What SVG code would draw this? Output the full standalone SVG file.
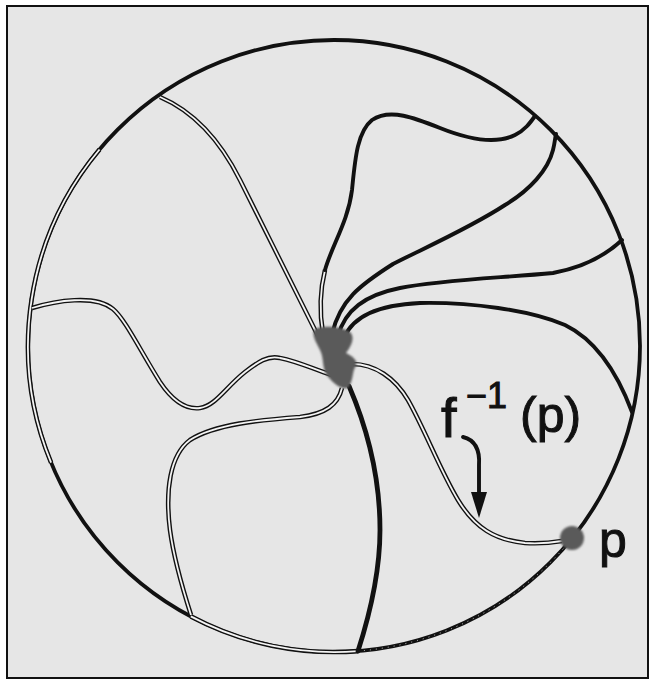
<svg xmlns="http://www.w3.org/2000/svg" width="654" height="684" viewBox="0 0 654 684">
<style>
.bg{fill:#e6e6e6;stroke:#111;stroke-width:2}
.thick{fill:none;stroke:#111;stroke-width:3.9;stroke-linecap:round;stroke-linejoin:round}
.heavy{fill:none;stroke:#111;stroke-width:4.8;stroke-linecap:round}
.ho{fill:none;stroke:#111;stroke-width:4.6;stroke-linecap:butt}
.hi{fill:none;stroke:#f4f4f4;stroke-width:1.8;stroke-linecap:butt}
.dots{fill:none;stroke:#dcdcdc;stroke-width:0.9;stroke-dasharray:1 5}
.lbl{font-family:"Liberation Sans",Arial,sans-serif;fill:#111;stroke:#111;stroke-width:1}
.blob{fill:#5a5a5a;filter:url(#soft)}
</style>
<defs>
<filter id="soft" x="-30%" y="-30%" width="160%" height="160%"><feGaussianBlur stdDeviation="1.3"/></filter>
<path id="arcUL" d="M99.5,149.5 A306,306 0 0 0 51.1,462.6"/>
<path id="arcBot" d="M190.8,616.4 A306,306 0 0 0 358,651.1"/>
<path id="arcBR" d="M358,651.1 A306,306 0 0 0 570.9,539.8"/>
<path id="l1" d="M160,97 C195,112 220,140 240,180 C265,230 295,290 318,336"/>
<path id="l2" d="M32,308 C55,301 95,294 113,309 C125,319 140,350 160,382 C172,400 185,410 200,408 C215,406 225,388 245,372 C258,362 268,355 280,358 C300,362 315,370 332,375"/>
<path id="l3" d="M342,388 C338,405 325,414 300,417 C260,420 215,424 190,440 C170,455 165,490 170,530 C174,560 183,590 191,615"/>
<path id="l5" d="M352,364 C375,364 395,378 408,400 C425,430 440,470 458,500 C475,528 495,540 525,543 C540,544 550,543 562,541"/>
<path id="aStart" d="M323,334 C319,310 320,290 325,270"/>
</defs>

<rect class="bg" x="7" y="6" width="641" height="672"/>

<g id="boundary">
<circle cx="334" cy="346" r="306" fill="none" stroke="#111" stroke-width="3.8"/>
<use href="#arcUL" class="ho"/><use href="#arcUL" class="hi"/>
<use href="#arcBot" class="ho"/><use href="#arcBot" class="hi"/>
<use href="#arcBR" class="dots"/>
</g>

<g id="connectors">
<use href="#l1" class="ho"/><use href="#l1" class="hi"/>
<use href="#l2" class="ho"/><use href="#l2" class="hi"/>
<use href="#l3" class="ho"/><use href="#l3" class="hi"/>
<use href="#l5" class="ho"/><use href="#l5" class="hi"/>
<path class="heavy" d="M349,386 C368,430 380,480 380,530 C380,575 368,620 358,651"/>
<use href="#aStart" class="ho"/><use href="#aStart" class="hi"/>
<path class="thick" d="M325,270 C332,245 348,222 352,190 C355,160 357,132 372,120 C390,108 415,118 440,128 C465,138 495,145 515,135 C525,130 530,123 535,116"/>
<path class="thick" d="M332,334 C340,300 360,285 393,264 C420,250 470,228 505,205 C530,190 548,170 553,150 C555,142 555,138 556,134"/>
<path class="thick" d="M338,336 C345,310 365,295 400,288 C440,280 500,278 553,273 C580,268 605,256 622,240"/>
<path class="thick" d="M344,338 C352,318 375,305 420,303 C470,302 530,310 565,325 C600,342 620,380 632,412"/>
</g>

<g id="center">
<path class="blob" d="M314,330 C320,325 340,326 350,332 C356,338 350,348 346,353 C352,356 358,360 356,366 C352,370 354,380 348,388 C340,390 332,382 326,374 C322,366 324,358 320,350 C316,342 312,336 314,330 Z"/>
</g>

<g id="p-point">
<circle class="blob" cx="572" cy="538" r="12"/>
<text class="lbl" x="599" y="557" font-size="50">p</text>
</g>

<g id="preimage-label">
<text class="lbl" x="441" y="437" font-size="56">f</text>
<text class="lbl" x="466" y="408" font-size="36">−1</text>
<text class="lbl" x="520" y="432" font-size="50">(p)</text>
<path class="thick" d="M463,437 C475,440 480,450 479,465 L479,495" stroke-width="3"/>
<polygon points="471,492 487,492 479,518" fill="#111"/>
</g>
</svg>
